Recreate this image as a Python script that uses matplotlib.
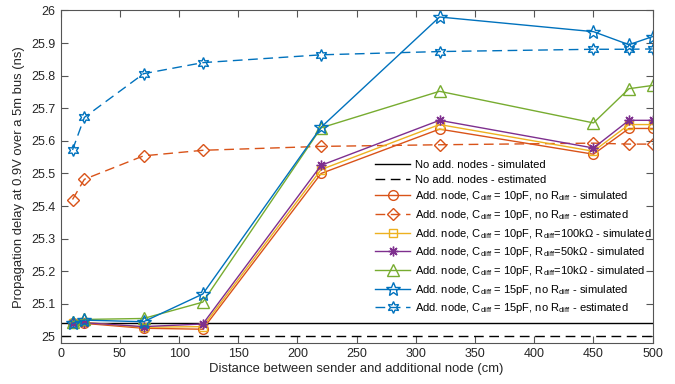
import matplotlib
matplotlib.use("Agg")
import matplotlib.pyplot as plt

plt.rcParams['font.family'] = ['Liberation Sans', 'DejaVu Sans']
plt.rcParams['mathtext.fontset'] = 'custom'
plt.rcParams['mathtext.rm'] = 'Liberation Sans'
plt.rcParams['mathtext.it'] = 'Liberation Sans:italic'

x = [10, 20, 70, 120, 220, 320, 450, 480, 500]
x_ref = [0, 500]
no_nodes_sim = [25.04, 25.04]
no_nodes_est = [25.0, 25.0]
c10_noR_sim = [25.04, 25.04, 25.025, 25.022, 25.50, 25.636, 25.559, 25.638, 25.638]
c10_noR_est = [25.42, 25.482, 25.554, 25.571, 25.583, 25.588, 25.593, 25.590, 25.590]
c10_R100k_sim = [25.04, 25.043, 25.028, 25.03, 25.512, 25.65, 25.568, 25.65, 25.65]
c10_R50k_sim = [25.04, 25.042, 25.03, 25.038, 25.525, 25.663, 25.578, 25.663, 25.663]
c10_R10k_sim = [25.045, 25.052, 25.055, 25.105, 25.640, 25.752, 25.655, 25.760, 25.770]
c15_noR_sim = [25.04, 25.05, 25.045, 25.13, 25.642, 25.980, 25.935, 25.895, 25.920]
c15_noR_est = [25.572, 25.672, 25.806, 25.840, 25.864, 25.874, 25.881, 25.881, 25.882]

labels = [
    'No add. nodes - simulated',
    'No add. nodes - estimated',
    r'Add. node, C$_{\mathrm{diff}}$ = 10pF, no R$_{\mathrm{diff}}$ - simulated',
    r'Add. node, C$_{\mathrm{diff}}$ = 10pF, no R$_{\mathrm{diff}}$ - estimated',
    r'Add. node, C$_{\mathrm{diff}}$ = 10pF, R$_{\mathrm{diff}}$=100k$\Omega$ - simulated',
    r'Add. node, C$_{\mathrm{diff}}$ = 10pF, R$_{\mathrm{diff}}$=50k$\Omega$ - simulated',
    r'Add. node, C$_{\mathrm{diff}}$ = 10pF, R$_{\mathrm{diff}}$=10k$\Omega$ - simulated',
    r'Add. node, C$_{\mathrm{diff}}$ = 15pF, no R$_{\mathrm{diff}}$ - simulated',
    r'Add. node, C$_{\mathrm{diff}}$ = 15pF, no R$_{\mathrm{diff}}$ - estimated',
]

blue = '#0072BD'
orange = '#D95319'
yellow = '#EDB120'
purple = '#7E2F8E'
green = '#77AC30'

fig = plt.figure(figsize=(6.75, 3.84), dpi=100)
ax = fig.add_axes([0.0899, 0.107, 0.877, 0.8657])

dash = (0, (7, 4))
lw = 1.0
ms = 7
ax.plot(x_ref, no_nodes_sim, color='black', lw=lw, label=labels[0])
ax.plot(x_ref, no_nodes_est, color='black', lw=lw, linestyle=dash, label=labels[1])
ax.plot(x, c10_noR_sim, color=orange, lw=lw, marker='o', ms=ms, mfc='none', mew=1, label=labels[2])
ax.plot(x, c10_noR_est, color=orange, lw=lw, linestyle=dash, marker='D', ms=ms - 1, mfc='none', mew=1, label=labels[3])
ax.plot(x, c10_R100k_sim, color=yellow, lw=lw, marker='s', ms=ms - 1.5, mfc='none', mew=1, label=labels[4])
ax.plot(x, c10_R50k_sim, color=purple, lw=lw, marker=(8, 2, 0), ms=ms, mfc='none', mew=1, label=labels[5])
ax.plot(x, c10_R10k_sim, color=green, lw=lw, marker='^', ms=ms + 1, mfc='none', mew=1, label=labels[6])
ax.plot(x, c15_noR_sim, color=blue, lw=lw, marker='*', ms=ms + 3, mfc='none', mew=1, label=labels[7])
ax.plot(x, c15_noR_est, color=blue, lw=lw, linestyle=dash, marker=(6, 1, 0), ms=ms + 1.5, mfc='none', mew=1, label=labels[8])

ax.set_xlim(0, 500)
ax.set_ylim(24.98, 26.0)
ax.set_xticks(range(0, 501, 50))
yt = [25 + 0.1 * i for i in range(11)]
ax.set_yticks(yt)
ax.set_yticklabels(['25', '25.1', '25.2', '25.3', '25.4', '25.5', '25.6', '25.7', '25.8', '25.9', '26'])

axcol = '#262626'
for s in ax.spines.values():
    s.set_color('#555555')
    s.set_linewidth(0.8)
ax.tick_params(direction='in', top=True, right=True, length=5, width=0.8,
               colors='#555555', labelcolor=axcol, labelsize=9, pad=4)
ax.set_xlabel('Distance between sender and additional node (cm)', fontsize=9.4, color=axcol, labelpad=2)
ax.set_ylabel('Propagation delay at 0.9V over a 5m bus (ns)', fontsize=9.4, color=axcol, labelpad=4)

leg = ax.legend(loc='lower right', bbox_to_anchor=(1.012, 0.06), frameon=False, fontsize=8,
                handlelength=3.1, handletextpad=0.5, labelspacing=0.42, borderpad=0.2)
for t in leg.get_texts():
    t.set_color('black')

fig.savefig('out.png', dpi=100)
